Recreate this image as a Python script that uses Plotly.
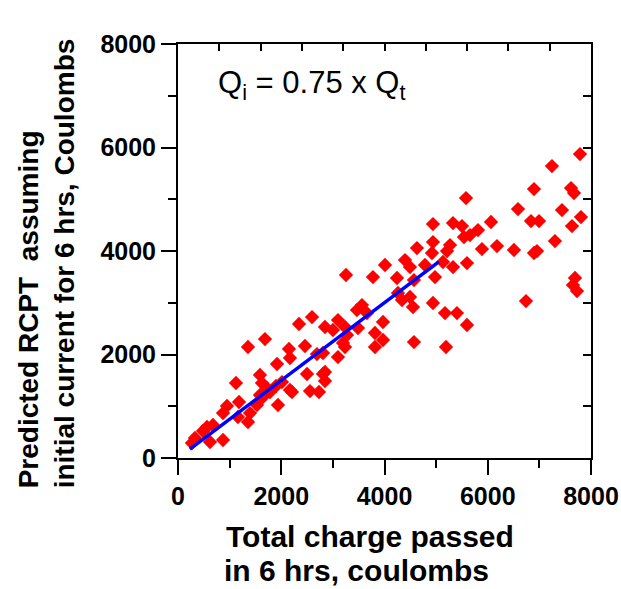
import plotly.graph_objects as go

# Total charge passed in 6 hrs (coulombs)
total_charge = [
    7787, 7244, 6896, 7613, 7671, 5579, 6586, 7438, 7806, 6838,
    6993, 6063, 7632, 5501, 5811, 5656, 5540, 7302, 5888, 6179,
    6508, 6896, 6954, 5598, 7690, 7651, 7729, 6741, 5598, 4939,
    5327, 4629, 4939, 5269, 5211, 4920, 5327, 5133, 4784, 4397,
    4494, 4010, 3254, 3777, 4242, 4571, 4978, 4261, 4339, 4494,
    4552, 4939, 5172, 5404, 3971, 3971, 4571, 5191, 3564, 3467,
    3661, 3816, 3816, 3487, 3235, 2847, 3099, 3274, 3235, 3099,
    2809, 2847, 2596, 2344, 1685, 1356, 2150, 2460, 2169, 2692,
    1918, 3002, 3196, 1123, 1588, 1627, 1724, 2014, 2169, 2499,
    2809, 2847, 2557, 2731, 1588, 1937, 1182, 949, 872, 1162,
    1356, 1530, 678, 562, 484, 620, 872, 329, 271, 1782,
    1898, 2208, 1646, 1395,
]

# Predicted RCPT assuming initial current for 6 hrs (coulombs)
predicted_rcpt = [
    5873, 5641, 5197, 5216, 5120, 5023, 4811, 4791, 4656, 4579,
    4579, 4560, 4482, 4482, 4405, 4308, 4270, 4192, 4038, 4096,
    4019, 3961, 3999, 3767, 3478, 3342, 3226, 3033, 2570, 4521,
    4540, 4057, 4173, 4115, 3999, 3961, 3690, 3787, 3729, 3825,
    3690, 3729, 3536, 3497, 3478, 3439, 3497, 3188, 3053, 3111,
    2917, 2995, 2801, 2801, 2628, 2280, 2241, 2145, 2956, 2859,
    2801, 2415, 2145, 2512, 2531, 2531, 2666, 2376, 2145, 1951,
    2029, 1662, 2724, 2589, 2299, 2145, 2106, 2164, 1932, 2009,
    1816, 2473, 2222, 1449, 1604, 1449, 1352, 1468, 1314, 1623,
    1623, 1488, 1294, 1275, 1217, 1024, 1082, 1005, 869, 792,
    696, 1024, 638, 599, 522, 309, 348, 386, 290, 1275,
    1391, 1275, 1179, 869,
]

# Fitted line Qi = 0.75 x Qt
fit_x = [230, 5050]
fit_y = [172, 3788]

axis_ticks = [0, 2000, 4000, 6000, 8000]
axis_ticktext = ["0", "2000", "4000", "6000", "8000"]

y_title_lines = ["Predicted RCPT\u00a0 assuming", "initial current for 6 hrs, Coulombs"]
x_title_lines = ["Total charge passed", "in 6 hrs, coulombs"]
equation_text = "Q<sub>i</sub> = 0.75 x Q<sub>t</sub>"

FONT = "Liberation Sans, Arial, sans-serif"

fig = go.Figure()
fig.add_trace(go.Scatter(
    x=total_charge, y=predicted_rcpt, mode="markers",
    marker=dict(symbol="diamond", size=11, color="#ff0000", line=dict(width=0)),
    showlegend=False, hoverinfo="skip",
))
fig.add_trace(go.Scatter(
    x=fit_x, y=fit_y, mode="lines",
    line=dict(color="#0000ff", width=3.5),
    showlegend=False, hoverinfo="skip",
))
fig.add_trace(go.Scatter(
    x=[None], y=[None], xaxis="x2", yaxis="y2", mode="markers",
    showlegend=False, hoverinfo="skip",
))

tickfont = dict(family=FONT, size=25, color="black", weight="bold")
title_font = dict(family=FONT, size=28, color="black", weight="bold")
xtitle_font = dict(family=FONT, size=30, color="black", weight="bold")

common = dict(
    range=[0, 8000], showline=True, linewidth=2, linecolor="black",
    showgrid=False, zeroline=False, automargin=False,
)

fig.update_layout(
    width=621, height=589,
    margin=dict(l=178, r=30, t=44, b=131),
    paper_bgcolor="white", plot_bgcolor="white",
    hovermode=False,
    xaxis=dict(
        tickvals=axis_ticks, ticktext=axis_ticktext,
        ticks="outside", ticklen=15, tickwidth=2, tickcolor="black",
        minor=dict(dtick=1000, tick0=0, ticks="outside", ticklen=8,
                   tickwidth=2, tickcolor="black", showgrid=False),
        tickfont=tickfont, **common,
    ),
    yaxis=dict(
        tickvals=axis_ticks, ticktext=axis_ticktext,
        ticks="outside", ticklen=15, tickwidth=2, tickcolor="black",
        minor=dict(dtick=1000, tick0=0, ticks="outside", ticklen=8,
                   tickwidth=2, tickcolor="black", showgrid=False),
        tickfont=tickfont, **common,
    ),
    xaxis2=dict(
        overlaying="x", side="top", dtick=800, tick0=0,
        ticks="inside", ticklen=7, tickwidth=2, tickcolor="black",
        showticklabels=False, **common,
    ),
    yaxis2=dict(
        overlaying="y", side="right", dtick=1000, tick0=0,
        ticks="inside", ticklen=8, tickwidth=2, tickcolor="black",
        showticklabels=False, **common,
    ),
    annotations=[
        dict(
            text=y_title_lines[0], xref="paper", yref="paper",
            x=-0.362, y=-0.077, xanchor="center", yanchor="bottom",
            textangle=-90, showarrow=False, font=title_font,
        ),
        dict(
            text=y_title_lines[1], xref="paper", yref="paper",
            x=-0.275, y=-0.077, xanchor="center", yanchor="bottom",
            textangle=-90, showarrow=False, font=title_font,
        ),
        dict(
            text=x_title_lines[0], xref="paper", yref="paper",
            x=0.112, y=-0.190, xanchor="left", yanchor="middle",
            showarrow=False, font=xtitle_font,
        ),
        dict(
            text=x_title_lines[1], xref="paper", yref="paper",
            x=0.107, y=-0.272, xanchor="left", yanchor="middle",
            showarrow=False, font=xtitle_font,
        ),
        dict(
            text=equation_text, xref="paper", yref="paper",
            x=0.093, y=0.953, xanchor="left", yanchor="top",
            showarrow=False, font=dict(family=FONT, size=31, color="black"),
        ),
    ],
)

fig.write_html(
    "out.html",
    config={"displayModeBar": False, "staticPlot": True},
    post_script="document.body.style.margin='0';"
                "document.documentElement.style.overflow='hidden';"
                "document.body.style.overflow='hidden';",
)
